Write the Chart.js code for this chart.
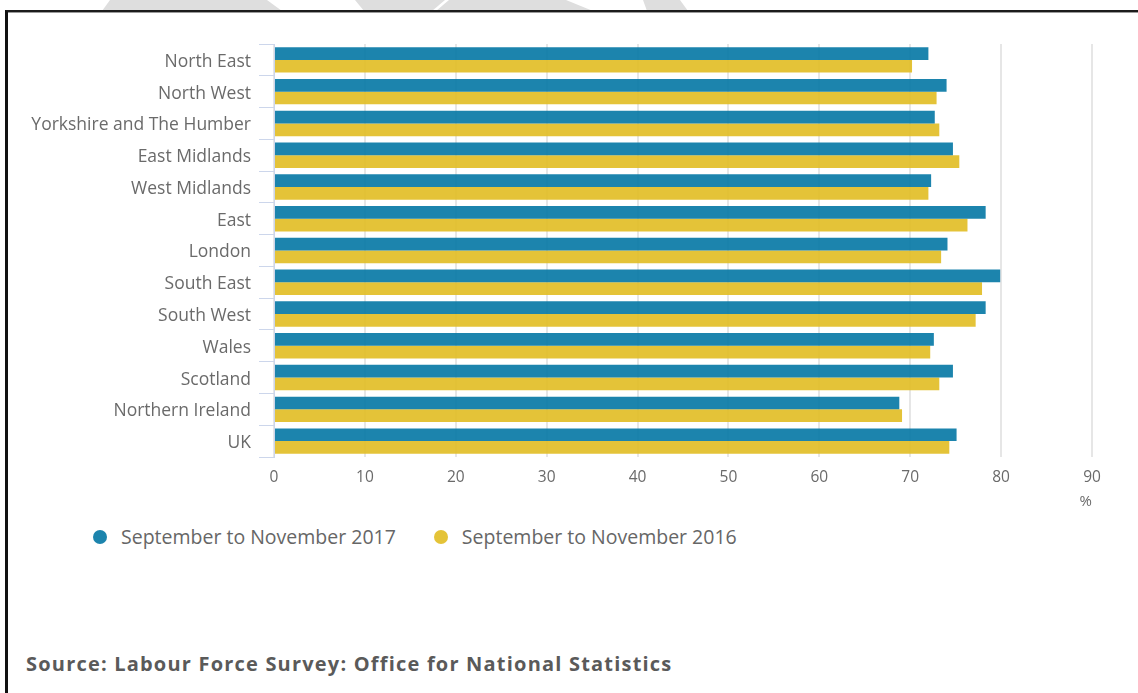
<!DOCTYPE html>
<html>
<head>
<meta charset="utf-8">
<title>Employment rate by region</title>
<script src="https://cdn.jsdelivr.net/npm/chart.js@4.4.1/dist/chart.umd.min.js"></script>
<style>
  html, body { margin: 0; padding: 0; background: #fff; }
  body { width: 1138px; height: 693px; position: relative; overflow: hidden; font-family: "Open Sans", sans-serif; }
  .mark { position: absolute; top: 0; height: 11px; background: #dedede; }
  #frame { position: absolute; left: 5px; top: 10px; width: 1140px; height: 700px;
           border-top: 2px solid #1c1c1c; border-left: 3px solid #111; box-shadow: inset 0 1px 0 #9a9a9a; }
  #chartBox { position: absolute; left: 0; top: 0; width: 1138px; height: 520px; }
  #legend { position: absolute; left: 93px; top: 524px; display: flex; align-items: center; }
  .item { display: flex; align-items: center; margin-right: 38px; }
  .dot { width: 14px; height: 14px; border-radius: 50%; margin-right: 14px; }
  .txt { font-size: 19.5px; color: #666; line-height: 26px; white-space: nowrap; }
  #source { position: absolute; left: 26px; top: 650px; font-size: 20px; letter-spacing: 1.2px; font-weight: bold; color: #5a5a5a; white-space: nowrap; }
</style>
</head>
<body>
<div class="mark" style="left:100px;width:185px;clip-path:polygon(10px 0,167px 0,182px 11px,2px 11px)"></div>
<div class="mark" style="left:355px;width:92px;clip-path:polygon(0 0,90px 0,77px 11px,9px 11px)"></div>
<div class="mark" style="left:436px;width:158px;clip-path:polygon(13px 0,130px 0,157px 11px,0 11px)"></div>
<div class="mark" style="left:643px;width:46px;clip-path:polygon(0 0,37px 0,45px 11px,4px 11px)"></div>
<div id="frame"></div>
<div id="chartBox"><canvas id="chart" width="1138" height="520"></canvas></div>
<div id="legend"></div>
<div id="source">Source: Labour Force Survey: Office for National Statistics</div>
<script>
// Employment rate (%) for people aged 16 to 64, by region
const regions = [
  'North East', 'North West', 'Yorkshire and The Humber', 'East Midlands',
  'West Midlands', 'East', 'London', 'South East', 'South West',
  'Wales', 'Scotland', 'Northern Ireland', 'UK'
];
const seriesNames = ['September to November 2017', 'September to November 2016'];
const rate2017 = [72.0, 74.0, 72.7, 74.7, 72.3, 78.3, 74.1, 79.9, 78.3, 72.6, 74.7, 68.8, 75.1];
const rate2016 = [70.2, 72.9, 73.2, 75.4, 72.0, 76.3, 73.4, 77.9, 77.2, 72.2, 73.2, 69.1, 74.3];
const xTickValues = [0, 10, 20, 30, 40, 50, 60, 70, 80, 90];

const BLUE = 'rgba(3,119,164,0.9)';
const GOLD = 'rgba(225,188,34,0.9)';
const LABEL_GREY = '#6a6a6a';

const chart = new Chart(document.getElementById('chart'), {
  type: 'bar',
  data: {
    labels: regions,
    datasets: [
      { label: seriesNames[0], data: rate2017, backgroundColor: BLUE, borderWidth: 0 },
      { label: seriesNames[1], data: rate2016, backgroundColor: GOLD, borderWidth: 0 }
    ]
  },
  options: {
    indexAxis: 'y',
    responsive: false,
    animation: false,
    devicePixelRatio: 1,
    categoryPercentage: 0.8,
    barPercentage: 1.0,
    layout: { padding: { top: 44, right: 46, left: 0, bottom: 0 } },
    plugins: { legend: { display: false }, tooltip: { enabled: false } },
    scales: {
      x: {
        type: 'linear',
        min: 0,
        max: 90,
        afterBuildTicks: s => { s.ticks = xTickValues.map(v => ({ value: v })); },
        afterFit: s => { s.height = 63; },
        grid: { color: '#e6e6e6', lineWidth: 2, drawTicks: false },
        border: { display: false },
        ticks: { color: LABEL_GREY, padding: 11, font: { family: 'Open Sans', size: 15.5 } },
        title: {
          display: true, text: '%', align: 'end', color: LABEL_GREY,
          font: { family: 'Open Sans', size: 15 }, padding: { top: 0, bottom: 9 }
        }
      },
      y: {
        afterFit: s => { s.width = 274; },
        grid: {
          offset: true, drawOnChartArea: false, drawTicks: true,
          tickLength: 15, color: '#ccd6eb', lineWidth: 1
        },
        border: { display: true, color: '#ccd6eb', width: 1 },
        ticks: { color: LABEL_GREY, padding: 8, labelOffset: 2, font: { family: 'Open Sans', size: 17.5 } }
      }
    }
  }
});

// Legend built from the chart's own datasets
const legend = document.getElementById('legend');
chart.data.datasets.forEach(ds => {
  const item = document.createElement('div');
  item.className = 'item';
  const dot = document.createElement('span');
  dot.className = 'dot';
  dot.style.background = ds.backgroundColor;
  const txt = document.createElement('span');
  txt.className = 'txt';
  txt.textContent = ds.label;
  item.appendChild(dot);
  item.appendChild(txt);
  legend.appendChild(item);
});
</script>
</body>
</html>
